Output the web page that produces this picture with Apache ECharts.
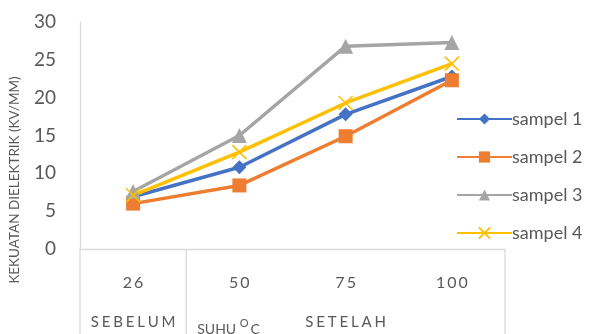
<!DOCTYPE html>
<html>
<head>
<meta charset="utf-8">
<script src="https://cdn.jsdelivr.net/npm/echarts@6/dist/echarts.min.js"></script>
<style>
  html, body { margin: 0; padding: 0; background: #fff; }
  #chart { width: 598px; height: 334px; }
</style>
</head>
<body>
<div id="chart"></div>
<script>
// Temperature categories (°C) and the two groups they belong to
const categories = ['26', '50', '75', '100'];
const groupLabels = ['SEBELUM', 'SETELAH'];
const groupSpans = [[0, 0], [1, 3]];

// Dielectric strength (kV/mm) per sample
const sampel1 = [6.9, 10.8, 17.8, 22.8];
const sampel2 = [6.0, 8.4, 14.9, 22.3];
const sampel3 = [7.6, 15.0, 26.8, 27.3];
const sampel4 = [7.1, 12.8, 19.3, 24.5];

const seriesNames = ['sampel 1', 'sampel 2', 'sampel 3', 'sampel 4'];
const yMin = 0, yMax = 30, yStep = 5;

const FONT = 'Lato, "Open Sans", sans-serif';
const TEXT = '#595959';
const RULE = '#D9D9D9';

const spaced = (s, sep) => s.split('').join(sep || '\u2009');

const chart = echarts.init(document.getElementById('chart'), null, { renderer: 'canvas' });

function lineSeries(name, data, color, symbol, size, extra) {
  return Object.assign({
    name: name,
    type: 'line',
    data: data,
    symbol: symbol,
    symbolSize: size,
    lineStyle: { color: color, width: 3.5 },
    itemStyle: { color: color },
    emphasis: { disabled: true },
    animation: false
  }, extra || {});
}

chart.setOption({
  animation: false,
  grid: { left: 80, right: 93, top: 22, bottom: 85, containLabel: false },
  legend: {
    orient: 'vertical',
    left: 451,
    top: 105,
    itemWidth: 55,
    itemHeight: 14,
    itemGap: 20,
    textStyle: { fontFamily: FONT, fontSize: 18, color: TEXT, padding: [0, 0, 0, -5] },
    data: seriesNames
  },
  xAxis: {
    type: 'category',
    data: categories,
    boundaryGap: true,
    axisLine: { show: true, lineStyle: { color: RULE, width: 1.3 } },
    axisTick: { show: false },
    axisLabel: {
      fontFamily: FONT, fontSize: 16, color: TEXT, margin: 26,
      formatter: v => spaced(v)
    },
    splitLine: { show: false }
  },
  yAxis: {
    type: 'value',
    min: yMin, max: yMax, interval: yStep,
    axisLine: { show: true, lineStyle: { color: RULE, width: 1.3 } },
    axisTick: { show: false },
    splitLine: { show: false },
    axisLabel: { fontFamily: FONT, fontSize: 19, color: TEXT, margin: 24 }
  },
  series: [
    lineSeries(seriesNames[0], sampel1, '#4472C4', 'diamond', 14),
    lineSeries(seriesNames[1], sampel2, '#ED7D31', 'rect', 14),
    lineSeries(seriesNames[2], sampel3, '#A5A5A5', 'triangle', 15),
    lineSeries(seriesNames[3], sampel4, '#FFC000', 'path://M0,0L10,10M10,0L0,10', 14, {
      itemStyle: { color: '#FFC000', borderColor: '#FFC000', borderWidth: 1.6 }
    })
  ]
});

// Multi-level category table drawn below the plot, placed from the axis scales
function drawCategoryTable() {
  const grid = chart.getModel().getComponent('grid', 0).coordinateSystem.getRect();
  const bottom = 334;
  const yAxisBase = grid.y + grid.height;
  const step = grid.width / categories.length;
  const edge = i => grid.x + step * i;
  const elements = [];
  const line = (x1, y1, x2, y2) => ({
    type: 'line', silent: true,
    shape: { x1: x1, y1: y1, x2: x2, y2: y2 },
    style: { stroke: RULE, lineWidth: 1.3 }
  });
  // group separators
  elements.push(line(edge(0), yAxisBase, edge(0), bottom));
  groupSpans.forEach(s => elements.push(line(edge(s[1] + 1), yAxisBase, edge(s[1] + 1), bottom)));
  // group labels
  groupSpans.forEach((s, gi) => {
    const cx = (edge(s[0]) + edge(s[1] + 1)) / 2;
    elements.push({
      type: 'text', silent: true, x: cx, y: 322,
      style: { text: spaced(groupLabels[gi], '\u2009\u200A'), align: 'center', verticalAlign: 'middle',
               font: '15px ' + FONT, fill: TEXT }
    });
  });
  // axis title with superscript degree mark
  elements.push({
    type: 'text', silent: true, x: edge(1) + 11, y: 327,
    style: {
      text: '{a|SUHU }{b|O}{a|C}', verticalAlign: 'middle', fill: TEXT,
      rich: {
        a: { fontFamily: FONT, fontSize: 14, fill: TEXT, verticalAlign: 'bottom' },
        b: { fontFamily: FONT, fontSize: 11, fill: TEXT, verticalAlign: 'top', padding: [0, 2, 7, 0] }
      }
    }
  });
  // vertical value-axis title
  elements.push({
    type: 'text', silent: true, x: 15, y: 180, rotation: Math.PI / 2,
    style: { text: 'KEKUATAN DIELEKTRIK (KV/MM)', align: 'center', verticalAlign: 'middle',
             font: '13.5px ' + FONT, fill: TEXT }
  });
  chart.setOption({ graphic: { elements: elements } });
}
drawCategoryTable();
</script>
</body>
</html>
